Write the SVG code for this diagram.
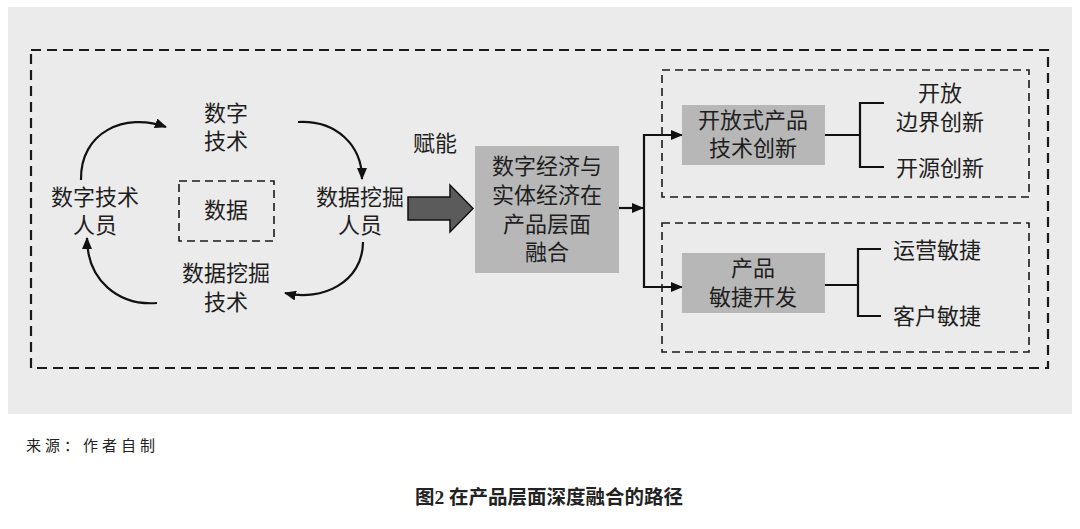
<svg xmlns="http://www.w3.org/2000/svg" width="1080" height="529" viewBox="0 0 1080 529">
<defs>
<marker id="ah" viewBox="0 0 12 10" refX="11" refY="5" markerWidth="12" markerHeight="10" markerUnits="userSpaceOnUse" orient="auto">
<path d="M0,0 L12,5 L0,10 z" fill="#111"/>
</marker>
</defs>
<style>
.t{font-family:"Liberation Sans","Noto Sans CJK SC",sans-serif;font-size:22px;fill:#1e1e1e;text-anchor:middle;dominant-baseline:central}
.gbox{fill:#b7b7b7}
.dash1{fill:none;stroke:#1a1a1a;stroke-width:2.2;stroke-dasharray:10 6}
.dash2{fill:none;stroke:#1a1a1a;stroke-width:1.6;stroke-dasharray:8 5}
.ln{fill:none;stroke:#111;stroke-width:2.2}
</style>
<rect x="0" y="0" width="1080" height="529" fill="#ffffff"/>
<rect x="8" y="7" width="1064" height="407" fill="#ebebeb"/>
<rect id="outer" x="31" y="50" width="1017" height="318" class="dash1"/>

<g id="connectors">
<path class="ln" d="M81,180 C80,132 125,112 166,127" marker-end="url(#ah)"/>
<path class="ln" d="M298,122 C336,120 362,145 362,179" marker-end="url(#ah)"/>
<path class="ln" d="M363,242 C363,282 322,302 285,293" marker-end="url(#ah)"/>
<path class="ln" d="M157,303 C118,306 87,280 87,238" marker-end="url(#ah)"/>
<polygon points="408,197 450,197 450,185 473,208.5 450,232 450,220 408,220" fill="#5b5b5b" stroke="#111" stroke-width="1.5"/>
<path class="ln" d="M619,208 L643,208" marker-end="url(#ah)"/>
<path class="ln" d="M682,135 L644,135 L644,287 L682,287" marker-end="url(#ah)"/>
<path class="ln" d="M644,135 L682,135" marker-end="url(#ah)"/>
<path class="ln" d="M825,135 L860,135"/>
<path class="ln" d="M884,103 L860,103 L860,167 L884,167"/>
<path class="ln" d="M825,285 L858,285"/>
<path class="ln" d="M881,249 L858,249 L858,316 L881,316"/>
</g>

<g id="n-shuzijishu"><text class="t" x="226" y="113">数字<tspan x="226" dy="28">技术</tspan></text></g>
<g id="n-renyuan1"><text class="t" x="95" y="197">数字技术<tspan x="95" dy="28">人员</tspan></text></g>
<g id="n-shuju"><rect x="179" y="181" width="95" height="60" class="dash2"/><text class="t" x="226" y="210">数据</text></g>
<g id="n-wajuejishu"><text class="t" x="226" y="273">数据挖掘<tspan x="226" dy="29">技术</tspan></text></g>
<g id="n-wajuerenyuan"><text class="t" x="360" y="197">数据挖掘<tspan x="360" dy="28">人员</tspan></text></g>
<g id="n-funeng"><text class="t" x="435" y="143">赋能</text></g>
<g id="n-center"><rect x="475" y="146" width="144" height="127" class="gbox"/>
<text class="t" x="547" y="166">数字经济与<tspan x="547" dy="29">实体经济在</tspan><tspan x="547" dy="28.5">产品层面</tspan><tspan x="547" dy="28.5">融合</tspan></text></g>
<g id="g-upper"><rect x="662" y="70" width="367" height="127" class="dash2"/></g>
<g id="g-lower"><rect x="662" y="223" width="367" height="129" class="dash2"/></g>
<g id="n-open"><rect x="682" y="105" width="143" height="60" class="gbox"/><text class="t" x="753" y="120">开放式产品<tspan x="753" dy="28">技术创新</tspan></text></g>
<g id="n-agile"><rect x="682" y="253" width="143" height="60" class="gbox"/><text class="t" x="753" y="268">产品<tspan x="753" dy="29">敏捷开发</tspan></text></g>
<g id="n-bianjie"><text class="t" x="940" y="93">开放<tspan x="940" dy="29">边界创新</tspan></text></g>
<g id="n-kaiyuan"><text class="t" x="940" y="168">开源创新</text></g>
<g id="n-yunying"><text class="t" x="937" y="250">运营敏捷</text></g>
<g id="n-kehu"><text class="t" x="937" y="316">客户敏捷</text></g>

<text x="26" y="445" style="font-family:'Liberation Sans','Noto Sans CJK SC',sans-serif;font-size:15px;fill:#222;letter-spacing:4px;dominant-baseline:central">来源：作者自制</text>
<text x="549" y="497" style="font-family:'Liberation Serif','Noto Sans CJK SC',serif;font-size:19.5px;font-weight:bold;fill:#222;text-anchor:middle;dominant-baseline:central">图2 在产品层面深度融合的路径</text>
</svg>
